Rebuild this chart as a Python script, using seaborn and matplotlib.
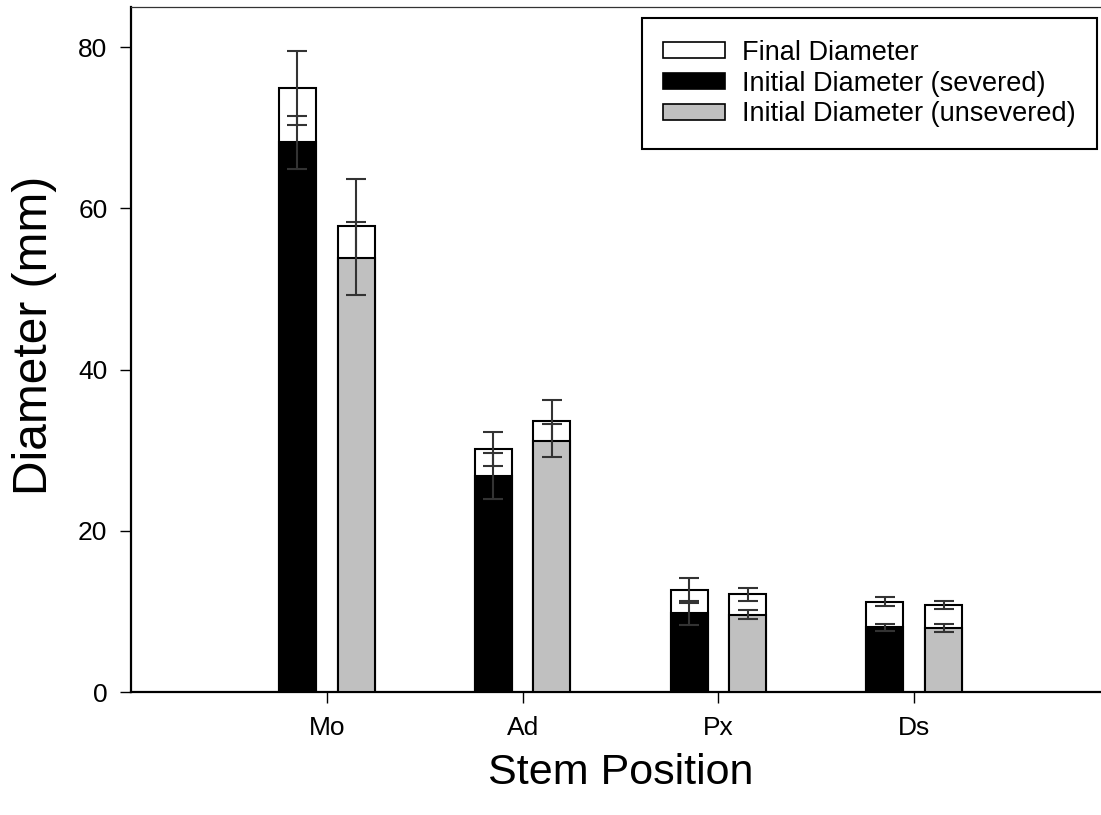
import matplotlib
matplotlib.use("Agg")
import matplotlib.pyplot as plt
from matplotlib.patches import Patch
from matplotlib.container import BarContainer
import pandas as pd
import seaborn as sns

# Stem diameters (mm), means and error half-widths
positions = ["Mo", "Ad", "Px", "Ds"]
treatments = ["severed", "unsevered"]

final_severed = [75.0, 30.2, 12.6, 11.2]
final_severed_err = [4.6, 2.1, 1.5, 0.55]
initial_severed = [68.2, 26.8, 9.8, 8.05]
initial_severed_err = [3.3, 2.9, 1.5, 0.45]

final_unsevered = [57.8, 33.6, 12.1, 10.8]
final_unsevered_err = [5.8, 2.6, 0.8, 0.5]
initial_unsevered = [53.8, 31.2, 9.6, 7.95]
initial_unsevered_err = [4.5, 2.1, 0.6, 0.55]

legend_labels = ["Final Diameter", "Initial Diameter (severed)",
                 "Initial Diameter (unsevered)"]
y_ticks = [0, 20, 40, 60, 80]

df = pd.DataFrame({
    "position": positions * 2,
    "treatment": ["severed"] * 4 + ["unsevered"] * 4,
    "final": final_severed + final_unsevered,
    "final_err": final_severed_err + final_unsevered_err,
    "initial": initial_severed + initial_unsevered,
    "initial_err": initial_severed_err + initial_unsevered_err,
})

sns.set_theme(style="ticks")
plt.rcParams["font.family"] = ["Liberation Sans", "DejaVu Sans"]

fig = plt.figure(figsize=(11.01, 8.15), dpi=100)
ax = fig.add_axes([131 / 1101, 123 / 815, 979 / 1101, 685 / 815])

ERR_COLOR = "#333333"
bar_kw = dict(order=positions, hue_order=treatments, width=0.6, gap=0.37,
              edgecolor="black", linewidth=1.5, errorbar=None, legend=False,
              saturation=1, ax=ax)


def add_errorbars(col, err_col, containers, z):
    for cont, level in zip(containers, treatments):
        sub = df[df["treatment"] == level].set_index("position").loc[positions]
        xs = [p.get_x() + p.get_width() / 2 for p in cont.patches]
        ax.errorbar(xs, sub[col], yerr=sub[err_col], fmt="none",
                    ecolor=ERR_COLOR, elinewidth=1.5, capsize=7.5,
                    capthick=1.5, zorder=z)


# Final diameter bars (white), behind the initial-diameter bars
sns.barplot(data=df, x="position", y="final", hue="treatment",
            palette={"severed": "white", "unsevered": "white"},
            zorder=1, **bar_kw)
final_conts = [c for c in ax.containers if isinstance(c, BarContainer)]
add_errorbars("final", "final_err", final_conts, 2)

# Initial diameter bars
sns.barplot(data=df, x="position", y="initial", hue="treatment",
            palette={"severed": "black", "unsevered": "#c0c0c0"},
            zorder=3, **bar_kw)
all_bars = [c for c in ax.containers if isinstance(c, BarContainer)]
init_conts = all_bars[len(final_conts):]
add_errorbars("initial", "initial_err", init_conts, 4)

ax.set_xlim(-1, 4)
ax.set_ylim(0, 85)
ax.set_yticks(y_ticks)

ax.spines["left"].set_linewidth(1.6)
ax.spines["bottom"].set_linewidth(1.6)
ax.spines["top"].set_linewidth(0.9)
ax.spines["top"].set_color("#333333")
ax.spines["right"].set_visible(False)
for s in ("left", "bottom"):
    ax.spines[s].set_color("black")

ax.tick_params(axis="both", direction="out", length=8, width=1,
               labelsize=19, pad=9, colors="black")
ax.tick_params(top=False, right=False)

ax.set_xlabel("Stem Position", fontsize=31, labelpad=10, color="black")
ax.set_ylabel("Diameter (mm)", fontsize=34.5, color="black")
ax.yaxis.set_label_coords(-(131 - 57) / 979, 0.52)

handles = [
    Patch(facecolor="white", edgecolor="black", linewidth=1.2),
    Patch(facecolor="black", edgecolor="black", linewidth=1.2),
    Patch(facecolor="#c0c0c0", edgecolor="black", linewidth=1.2),
]
leg = ax.legend(handles, legend_labels, loc="upper right",
                bbox_to_anchor=(1097 / 1101, 1 - 18 / 815),
                bbox_transform=fig.transFigure, fontsize=19.5,
                frameon=True, fancybox=False, edgecolor="black",
                framealpha=1, handlelength=2.3, handleheight=0.5,
                labelspacing=0.18, borderpad=0.8, handletextpad=0.6,
                borderaxespad=0)
leg.get_frame().set_linewidth(1.5)
for t in leg.get_texts():
    t.set_color("black")

fig.savefig("out.png", dpi=100)
